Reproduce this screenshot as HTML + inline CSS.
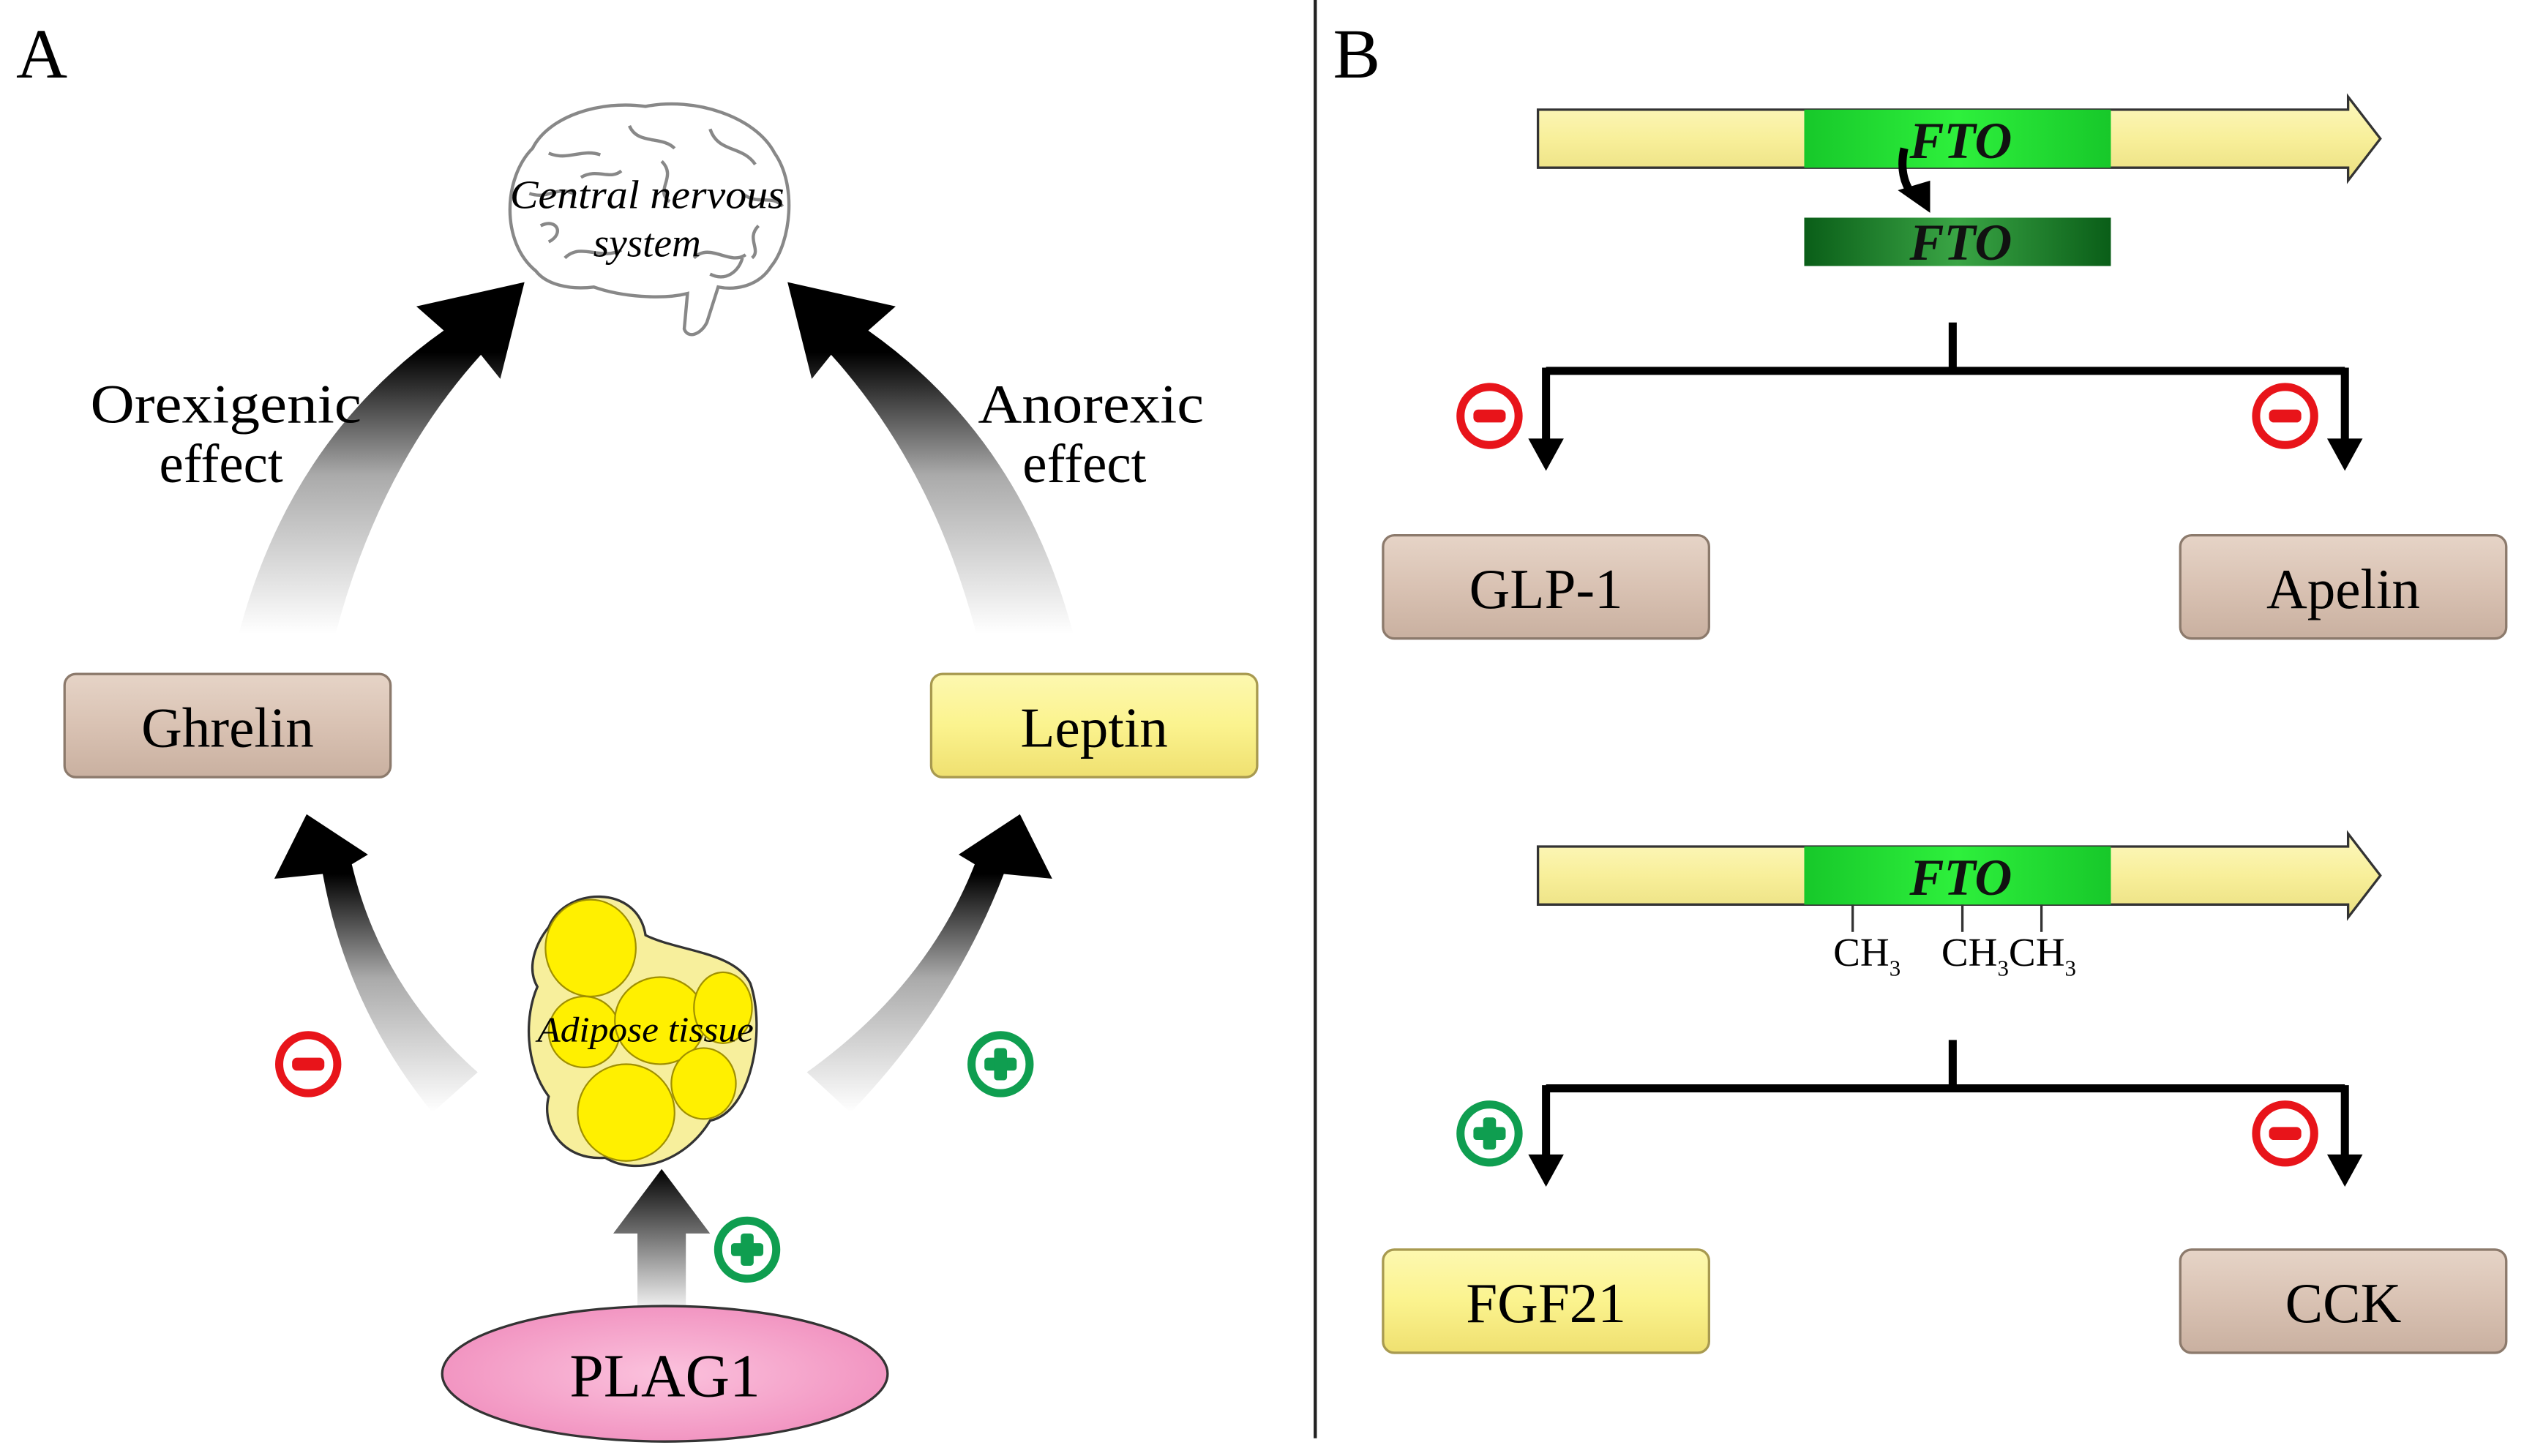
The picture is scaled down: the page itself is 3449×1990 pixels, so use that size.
<!DOCTYPE html>
<html><head><meta charset="utf-8"><style>html,body{margin:0;padding:0;background:#fff}svg{display:block}</style></head>
<body>
<svg width="3449" height="1990" viewBox="0 0 1564 903" preserveAspectRatio="none" xmlns="http://www.w3.org/2000/svg" font-family="'Liberation Serif', serif">
<defs>
<linearGradient id="gUp" x1="0" y1="393" x2="0" y2="175" gradientUnits="userSpaceOnUse"><stop offset="0" stop-color="#fff"/><stop offset="0.45" stop-color="#aaa"/><stop offset="0.8" stop-color="#000"/></linearGradient>
<linearGradient id="gLow" x1="0" y1="690" x2="0" y2="505" gradientUnits="userSpaceOnUse"><stop offset="0" stop-color="#fff"/><stop offset="0.45" stop-color="#aaa"/><stop offset="0.8" stop-color="#000"/></linearGradient>
<linearGradient id="gPl" x1="0" y1="810" x2="0" y2="725" gradientUnits="userSpaceOnUse"><stop offset="0" stop-color="#eee"/><stop offset="1" stop-color="#000"/></linearGradient>
<linearGradient id="tan" x1="0" y1="0" x2="0" y2="1"><stop offset="0" stop-color="#e6d4c7"/><stop offset="0.5" stop-color="#d9c2b3"/><stop offset="1" stop-color="#c9b0a0"/></linearGradient>
<linearGradient id="yel" x1="0" y1="0" x2="0" y2="1"><stop offset="0" stop-color="#fdf8b0"/><stop offset="0.5" stop-color="#fbf38e"/><stop offset="1" stop-color="#efe070"/></linearGradient>
<linearGradient id="bar" x1="0" y1="0" x2="0" y2="1"><stop offset="0" stop-color="#fdf8c0"/><stop offset="0.5" stop-color="#f8ef9a"/><stop offset="1" stop-color="#eadf80"/></linearGradient>
<linearGradient id="grn" x1="0" y1="0" x2="1" y2="0"><stop offset="0" stop-color="#17c82a"/><stop offset="0.5" stop-color="#2ef03c"/><stop offset="1" stop-color="#17c82a"/></linearGradient>
<linearGradient id="dgrn" x1="0" y1="0" x2="1" y2="0"><stop offset="0" stop-color="#0a5e18"/><stop offset="0.5" stop-color="#3aa545"/><stop offset="1" stop-color="#0a5e18"/></linearGradient>
<radialGradient id="pink" cx="0.5" cy="0.5" r="0.6"><stop offset="0" stop-color="#fbc2dd"/><stop offset="1" stop-color="#f08cbc"/></radialGradient>
<g id="minus"><circle r="18" fill="#fff" stroke="#e8141a" stroke-width="5"/><rect x="-10" y="-4" width="20" height="8" rx="3" fill="#e8141a"/></g>
<g id="plus"><circle r="18" fill="#fff" stroke="#0f9e50" stroke-width="5"/><rect x="-10" y="-4" width="20" height="8" rx="2" fill="#0f9e50"/><rect x="-4" y="-10" width="8" height="20" rx="2" fill="#0f9e50"/></g>
</defs>

<text x="10" y="48" font-size="44">A</text>
<text x="826" y="48" font-size="44">B</text>
<line x1="815" y1="0" x2="815" y2="892" stroke="#222" stroke-width="2"/>

<!-- Brain -->
<g stroke="#888" stroke-width="2" fill="#fff">
<path d="M332,168 C310,150 312,110 330,92 C340,72 372,62 400,66 C430,60 468,72 480,95 C494,115 490,150 478,165 C470,178 455,180 445,178 L438,200 C434,208 426,210 424,204 L426,182 C410,186 385,184 368,178 C352,180 338,176 332,168 Z"/>
<path d="M340,95 C352,100 360,92 372,96 M390,78 C395,90 410,84 418,92 M440,80 C445,95 460,90 468,102 M328,120 C340,124 345,115 355,120 M460,120 C470,128 478,120 485,128 M350,160 C360,150 372,162 385,155 M430,160 C440,150 452,165 462,158 M410,100 C420,110 405,118 415,125 M360,110 C370,104 378,112 385,106 M335,140 C345,135 350,145 340,150 M470,140 C462,148 472,155 466,160" fill="none"/>
<path d="M440,170 C450,175 458,168 460,160" fill="none"/>
</g>
<text x="401" y="129" font-size="25" font-style="italic" text-anchor="middle" textLength="170" lengthAdjust="spacingAndGlyphs">Central nervous</text>
<text x="401" y="159" font-size="25" font-style="italic" text-anchor="middle">system</text>

<!-- Upper arrows -->
<path d="M148,393 Q180,272 275,205 L258,190 L325,175 L310,235 L298,220 Q235,290 208,393 Z" fill="url(#gUp)"/>
<path transform="translate(813,0) scale(-1,1)" d="M148,393 Q180,272 275,205 L258,190 L325,175 L310,235 L298,220 Q235,290 208,393 Z" fill="url(#gUp)"/>

<text x="140" y="262" font-size="34" text-anchor="middle" textLength="168" lengthAdjust="spacingAndGlyphs">Orexigenic</text>
<text x="137" y="299" font-size="34" text-anchor="middle">effect</text>
<text x="676" y="262" font-size="34" text-anchor="middle" textLength="140" lengthAdjust="spacingAndGlyphs">Anorexic</text>
<text x="672" y="299" font-size="34" text-anchor="middle">effect</text>

<rect x="40" y="418" width="202" height="64" rx="7" fill="url(#tan)" stroke="#8c7a6c" stroke-width="1.5"/>
<text x="141" y="463" font-size="35" text-anchor="middle">Ghrelin</text>
<rect x="577" y="418" width="202" height="64" rx="7" fill="url(#yel)" stroke="#a89a50" stroke-width="1.5"/>
<text x="678" y="463" font-size="35" text-anchor="middle">Leptin</text>

<!-- Lower arrows -->
<path d="M268,690 Q215,625 200,542 L170,545 L190,505 L228,530 L218,536 Q236,612 296,665 Z" fill="url(#gLow)"/>
<path transform="translate(822,0) scale(-1,1)" d="M295,690 Q232,625 200,542 L170,545 L190,505 L228,530 L218,536 Q248,612 322,665 Z" fill="url(#gLow)"/>

<use href="#minus" x="191" y="660"/>
<use href="#plus" x="620" y="660"/>

<!-- Adipose tissue -->
<path d="M340,575 C350,550 395,548 400,580 C420,590 455,590 465,610 C475,640 465,690 440,695 C425,720 395,730 375,718 C350,720 335,700 340,680 C325,660 325,630 333,612 C326,600 332,585 340,575 Z" fill="#f7ef9c" stroke="#333" stroke-width="1.5"/>
<g fill="#fff000" stroke="#a09000" stroke-width="1">
<ellipse cx="366" cy="588" rx="28" ry="30"/>
<ellipse cx="362" cy="640" rx="22" ry="22"/>
<ellipse cx="409" cy="633" rx="28" ry="27"/>
<ellipse cx="448" cy="625" rx="18" ry="22"/>
<ellipse cx="388" cy="690" rx="30" ry="30"/>
<ellipse cx="436" cy="672" rx="20" ry="22"/>
</g>
<text x="400" y="646" font-size="22" font-style="italic" text-anchor="middle" textLength="134" lengthAdjust="spacingAndGlyphs">Adipose tissue</text>

<path d="M395,812 L395,765 L380,765 L410,725 L440,765 L425,765 L425,812 Z" fill="url(#gPl)"/>
<use href="#plus" x="463" y="775"/>
<ellipse cx="412" cy="852" rx="138" ry="42" fill="url(#pink)" stroke="#333" stroke-width="1.5"/>
<text x="412" y="866" font-size="38" text-anchor="middle">PLAG1</text>

<!-- Panel B gene 1 -->
<path d="M953,68 L1455,68 L1455,60 L1475,86 L1455,112 L1455,104 L953,104 Z" fill="url(#bar)" stroke="#333" stroke-width="1.5"/>
<rect x="1118" y="68" width="190" height="36" fill="url(#grn)"/>
<text x="1215" y="98" font-size="32" font-weight="bold" font-style="italic" text-anchor="middle" fill="#111">FTO</text>
<path d="M1180,92 Q1176,110 1186,122" fill="none" stroke="#000" stroke-width="5"/>
<polygon points="1176,118 1196,132 1196,112" fill="#000"/>
<rect x="1118" y="135" width="190" height="30" fill="url(#dgrn)"/>
<text x="1215" y="161" font-size="32" font-weight="bold" font-style="italic" text-anchor="middle" fill="#111">FTO</text>

<g stroke="#000" stroke-width="5" fill="none">
<path d="M1210,200 L1210,230 M958,230 L1453,230 M958,228 L958,276 M1453,228 L1453,276"/>
</g>
<polygon points="947,272 969,272 958,292" fill="#000"/>
<polygon points="1442,272 1464,272 1453,292" fill="#000"/>
<use href="#minus" x="923" y="258"/>
<use href="#minus" x="1416" y="258"/>

<rect x="857" y="332" width="202" height="64" rx="7" fill="url(#tan)" stroke="#8c7a6c" stroke-width="1.5"/>
<text x="958" y="377" font-size="35" text-anchor="middle">GLP-1</text>
<rect x="1351" y="332" width="202" height="64" rx="7" fill="url(#tan)" stroke="#8c7a6c" stroke-width="1.5"/>
<text x="1452" y="377" font-size="35" text-anchor="middle">Apelin</text>

<!-- gene 2 -->
<path d="M953,525 L1455,525 L1455,517 L1475,543 L1455,569 L1455,561 L953,561 Z" fill="url(#bar)" stroke="#333" stroke-width="1.5"/>
<rect x="1118" y="525" width="190" height="36" fill="url(#grn)"/>
<text x="1215" y="555" font-size="32" font-weight="bold" font-style="italic" text-anchor="middle" fill="#111">FTO</text>
<g stroke="#333" stroke-width="1.5"><line x1="1148" y1="561" x2="1148" y2="578"/><line x1="1216" y1="561" x2="1216" y2="578"/><line x1="1265" y1="561" x2="1265" y2="578"/></g>
<text x="1136" y="599" font-size="25">CH<tspan font-size="14" dy="6">3</tspan></text>
<text x="1203" y="599" font-size="25">CH<tspan font-size="14" dy="6">3</tspan><tspan dy="-6">CH</tspan><tspan font-size="14" dy="6">3</tspan></text>

<g stroke="#000" stroke-width="5" fill="none">
<path d="M1210,645 L1210,675 M958,675 L1453,675 M958,673 L958,720 M1453,673 L1453,720"/>
</g>
<polygon points="947,716 969,716 958,736" fill="#000"/>
<polygon points="1442,716 1464,716 1453,736" fill="#000"/>
<use href="#plus" x="923" y="703"/>
<use href="#minus" x="1416" y="703"/>

<rect x="857" y="775" width="202" height="64" rx="7" fill="url(#yel)" stroke="#a89a50" stroke-width="1.5"/>
<text x="958" y="820" font-size="35" text-anchor="middle">FGF21</text>
<rect x="1351" y="775" width="202" height="64" rx="7" fill="url(#tan)" stroke="#8c7a6c" stroke-width="1.5"/>
<text x="1452" y="820" font-size="35" text-anchor="middle">CCK</text>
</svg>
</body></html>
